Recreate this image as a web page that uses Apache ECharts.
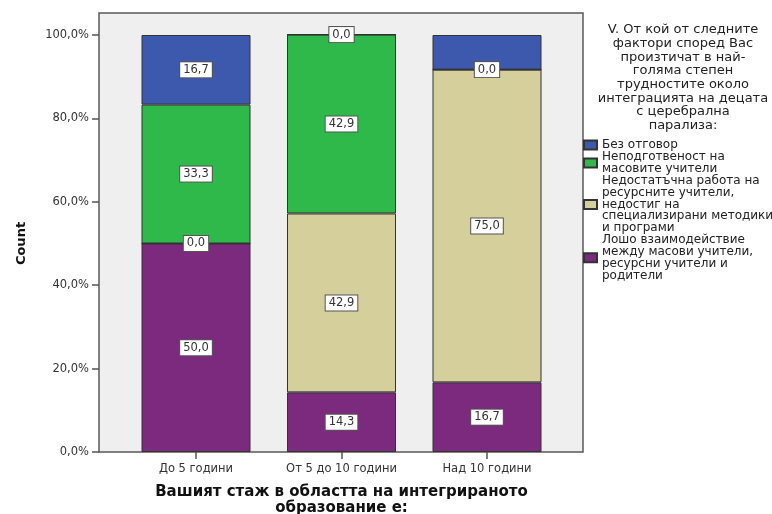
<!DOCTYPE html>
<html>
<head>
<meta charset="utf-8">
<script src="https://cdn.jsdelivr.net/npm/echarts@6/dist/echarts.min.js"></script>
<style>
  html, body { margin: 0; padding: 0; background: #ffffff; }
  #chart { width: 772px; height: 514px; }
</style>
</head>
<body>
<div id="chart"></div>
<script>
// Categories: years of experience in integrated education
const categories = ['До 5 години', 'От 5 до 10 години', 'Над 10 години'];

// Percent of answers per category (bottom to top in each stacked bar)
const poorInteraction      = [50.0, 14.3, 16.7];
const insufficientResource = [0.0, 42.9, 75.0];
const unpreparedTeachers   = [33.3, 42.9, 0.0];
const noAnswer             = [16.7, 0.0, 8.3];
const noAnswerLabelShown   = [true, true, false];

// Legend texts, in stacking order
const seriesNames = [
  'Лошо взаимодействие\nмежду масови учители,\nресурсни учители и\nродители',
  'Недостатъчна работа на\nресурсните учители,\nнедостиг на\nспециализирани методики\nи програми',
  'Неподготвеност на\nмасовите учители',
  'Без отговор'
];
const legendTitle = 'V. От кой от следните\nфактори според Вас\nпроизтичат в най-\nголяма степен\nтрудностите около\nинтеграцията на децата\nс церебрална\nпарализа:';

const yTicks = { min: 0, max: 100, interval: 20 };

const colors = ['#7b2a7e', '#d5cf9b', '#2fb94a', '#3d59ad'];
const fontFamily = '"DejaVu Sans", sans-serif';

const fmt = v => v.toFixed(1).replace('.', ',');

const labelStyle = {
  show: true,
  position: 'inside',
  formatter: p => fmt(p.value),
  backgroundColor: '#ffffff',
  borderColor: '#555555',
  borderWidth: 1,
  padding: [2, 3, 1, 3],
  fontSize: 11.5,
  fontFamily: fontFamily,
  color: '#333333'
};

const seriesData = [
  poorInteraction,
  insufficientResource,
  unpreparedTeachers,
  noAnswer.map((v, i) => noAnswerLabelShown[i] ? v : { value: v, label: { show: false } })
];

const chart = echarts.init(document.getElementById('chart'), null, { renderer: 'canvas' });

chart.setOption({
  animation: false,
  backgroundColor: '#ffffff',
  textStyle: { fontFamily: fontFamily },
  title: {
    text: legendTitle,
    left: 678,
    top: 18,
    textAlign: 'center',
    textStyle: {
      fontFamily: fontFamily,
      fontSize: 13,
      fontWeight: 'normal',
      color: '#222222',
      lineHeight: 13.7,
      align: 'center'
    }
  },
  legend: {
    orient: 'vertical',
    left: 578,
    top: 134,
    itemWidth: 13,
    itemHeight: 9,
    itemGap: 0,
    icon: 'rect',
    data: [seriesNames[3], seriesNames[2], seriesNames[1], seriesNames[0]],
    textStyle: {
      fontFamily: fontFamily,
      fontSize: 12,
      lineHeight: 11.8,
      color: '#222222'
    },
    selectedMode: false
  },
  graphic: [{
    type: 'rect',
    z: 0,
    shape: { x: 99, y: 13, width: 484, height: 439 },
    style: { fill: '#efefef', stroke: '#5a5a5a', lineWidth: 1.5 }
  }],
  grid: {
    left: 123.25,
    top: 35,
    width: 436.5,
    height: 417,
    containLabel: false,
    outerBoundsMode: 'none'
  },
  xAxis: {
    type: 'category',
    data: categories,
    name: 'Вашият стаж в областта на интегрираното\nобразование е:',
    nameLocation: 'middle',
    nameGap: 32,
    nameTextStyle: {
      fontFamily: fontFamily,
      fontSize: 15,
      fontWeight: 'bold',
      color: '#111111',
      lineHeight: 16,
      align: 'center',
      verticalAlign: 'top'
    },
    axisLine: { show: false },
    axisTick: { show: true, alignWithLabel: true, length: 7, lineStyle: { color: '#555555', width: 1.5 } },
    axisLabel: { fontFamily: fontFamily, fontSize: 11.5, color: '#333333', margin: 11 },
    splitLine: { show: false }
  },
  yAxis: {
    type: 'value',
    min: yTicks.min,
    max: yTicks.max,
    interval: yTicks.interval,
    offset: 24.25,
    name: 'Count',
    nameLocation: 'middle',
    nameGap: 71,
    nameRotate: 90,
    nameTextStyle: {
      fontFamily: fontFamily,
      fontSize: 13,
      fontWeight: 'bold',
      color: '#111111'
    },
    axisLine: { show: false },
    axisTick: { show: true, length: 7, lineStyle: { color: '#555555', width: 1.5 } },
    axisLabel: {
      fontFamily: fontFamily,
      fontSize: 11.5,
      color: '#333333',
      margin: 10,
      formatter: v => fmt(v) + '%'
    },
    splitLine: { show: false }
  },
  series: seriesNames.map((name, i) => ({
    type: 'bar',
    name: name,
    stack: 'total',
    barWidth: 109,
    clip: false,
    data: seriesData[i],
    z: 2,
    itemStyle: { color: colors[i], borderColor: '#333333', borderWidth: 1 },
    label: labelStyle
  }))
});
</script>
</body>
</html>
